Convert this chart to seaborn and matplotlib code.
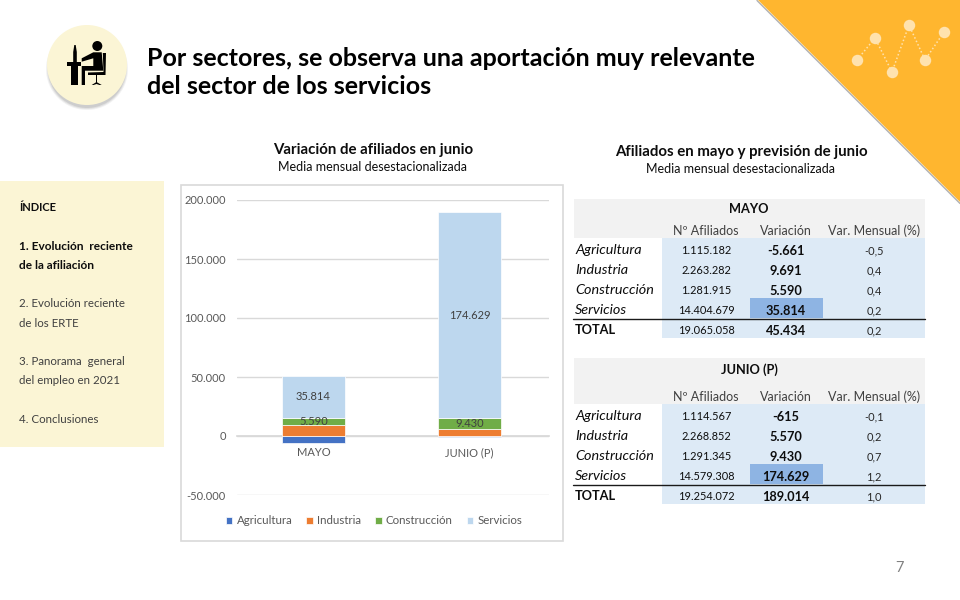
import matplotlib
matplotlib.use('Agg')
import numpy as np
import pandas as pd
import seaborn as sns
import matplotlib.pyplot as plt
from matplotlib.patches import Rectangle, Circle, Polygon
from matplotlib.ticker import FuncFormatter

sns.set_theme(style='white')
plt.rcParams['font.family'] = ['Lato', 'DejaVu Sans']

# chart data
periods = ['MAYO', 'JUNIO (P)']
agricultura = [-5661, -615]
industria = [9691, 5570]
construccion = [5590, 9430]
servicios = [35814, 174629]
sector_names = ['Agricultura', 'Industria', 'Construcción', 'Servicios']
sector_colors = ['#4472C4', '#ED7D31', '#70AD47', '#BDD7EE']
y_ticks = [-50000, 0, 50000, 100000, 150000, 200000]

# tables
table_rows = ['Agricultura', 'Industria', 'Construcción', 'Servicios', 'TOTAL']
table_cols = ['Nº Afiliados', 'Variación', 'Var. Mensual (%)']
mayo_afiliados = ['1.115.182', '2.263.282', '1.281.915', '14.404.679', '19.065.058']
mayo_variacion = ['-5.661', '9.691', '5.590', '35.814', '45.434']
mayo_mensual = ['-0,5', '0,4', '0,4', '0,2', '0,2']
junio_afiliados = ['1.114.567', '2.268.852', '1.291.345', '14.579.308', '19.254.072']
junio_variacion = ['-615', '5.570', '9.430', '174.629', '189.014']
junio_mensual = ['-0,1', '0,2', '0,7', '1,2', '1,0']

index_items = [
    ('ÍNDICE', 207.5, True),
    ('1. Evolución  reciente', 246.5, True),
    ('de la afiliación', 265.5, True),
    ('2. Evolución reciente', 303.5, False),
    ('de los ERTE', 323.5, False),
    ('3. Panorama  general', 361.5, False),
    ('del empleo en 2021', 380.5, False),
    ('4. Conclusiones', 419.5, False),
]

TXT = '#0D0D0D'
GREY = '#595959'
YELLOW = '#FBF5D5'

fig = plt.figure(figsize=(9.6, 6), dpi=100, facecolor='white')

# page layer in pixel coordinates
bg = fig.add_axes([0, 0, 1, 1], zorder=0)
bg.set_xlim(0, 960)
bg.set_ylim(600, 0)
bg.axis('off')

# corner triangle
bg.plot([757, 960], [0.5, 203.5], color='#B0B0B0', lw=1.0)
bg.add_patch(Polygon([[758, 0], [960, 0], [960, 202]], closed=True, fc='#FFB62F', ec='none', zorder=2))
spark_x = [857, 875, 892, 909, 925, 944]
spark_y = [60, 38, 72, 25, 60, 32]
bg.plot(spark_x, spark_y, ls=(0, (1, 1.5)), lw=1.1, color='#FFE2AE', zorder=3)
bg.scatter(spark_x, spark_y, s=68, color='#FFE2AE', linewidths=0, zorder=4)

# round icon
for r, a in [(41, 0.10), (40, 0.15), (39, 0.2)]:
    bg.add_patch(Circle((87, 69), r, fc='#808080', ec='none', alpha=a))
bg.add_patch(Circle((87, 65), 40, fc=YELLOW, ec='none'))
bg.add_patch(Circle((97.3, 46), 5, fc='black', ec='none'))
bg.add_patch(Polygon([[81.7, 58.3], [93.3, 52.3], [101.7, 52.3], [103.3, 70.7], [85, 70.7], [85, 85], [81.7, 85],
                      [81.7, 66], [93.3, 66], [93.3, 58.3], [81.7, 61.7]], closed=True, fc='black', ec='none'))
bg.add_patch(Polygon([[102.8, 53], [106, 53], [105.5, 75], [88, 75], [88, 72.5], [103.5, 72]], closed=True, fc='black', ec='none'))
bg.add_patch(Rectangle((67, 62), 14, 3.5, fc='black', ec='none'))
bg.add_patch(Rectangle((70.7, 65), 7.6, 20, fc='black', ec='none'))
bg.add_patch(Polygon([[74.3, 45], [75.7, 45], [76.8, 52], [76.8, 62], [73.2, 62], [73.2, 52]], closed=True, fc='black', ec='none'))
bg.add_patch(Rectangle((95.7, 75), 1.6, 7.5, fc='black', ec='none'))
bg.add_patch(Polygon([[91.7, 85], [96.5, 82], [101.7, 85], [99.5, 85], [96.5, 84], [93.5, 85]], closed=True, fc='black', ec='none'))

# title
bg.text(147, 58, 'Por sectores, se observa una aportación muy relevante', fontsize=18, fontweight='bold', color='black', va='center')
bg.text(147, 87, 'del sector de los servicios', fontsize=18, fontweight='bold', color='black', va='center')

# index panel
bg.add_patch(Rectangle((0, 181), 164, 266, fc=YELLOW, ec='none'))
for label, py, is_bold in index_items:
    size = 8.6 if is_bold and label != 'ÍNDICE' else 8.3
    if label == 'ÍNDICE':
        size = 8
    bg.text(19, py, label, fontsize=size, color=TXT if is_bold else '#404040',
            fontweight='bold' if is_bold else 'normal', va='center')

# headings
bg.text(373, 150, 'Variación de afiliados en junio', fontsize=10.8, fontweight='bold', color=TXT, ha='center', va='center')
bg.text(373, 167, 'Media mensual desestacionalizada', fontsize=9, color=TXT, ha='center', va='center')
bg.text(741, 152, 'Afiliados en mayo y previsión de junio', fontsize=10.8, fontweight='bold', color=TXT, ha='center', va='center')
bg.text(741, 169, 'Media mensual desestacionalizada', fontsize=9, color=TXT, ha='center', va='center')

# chart frame
bg.add_patch(Rectangle((180.5, 184.5), 382, 356, fc='white', ec='#D9D9D9', lw=1.2))


def draw_table(top, head_h, title, title_y, afiliados, variacion, mensual):
    body = top + head_h
    row_y = [body + 12 + 20 * i for i in range(5)]
    bg.add_patch(Rectangle((574, top), 351, head_h, fc='#F2F2F2', ec='none'))
    bg.add_patch(Rectangle((662, body), 263, 100, fc='#DDEAF6', ec='none'))
    bg.add_patch(Rectangle((750, body + 60), 73, 20, fc='#8EB4E3', ec='none'))
    bg.plot([573, 925], [body + 80.5, body + 80.5], color='#1A1A1A', lw=1)
    bg.text(749, title_y, title, fontsize=9.2, fontweight='bold', color=TXT, ha='center', va='center')
    for cx, head in zip([706, 786, 874], table_cols):
        bg.text(cx, body - 7, head, fontsize=9, color='#404040', ha='center', va='center')
    for i, py in enumerate(row_y):
        if i == 4:
            bg.text(575, py, table_rows[i], fontsize=9.2, fontweight='bold', color=TXT, va='center')
        else:
            bg.text(575, py, table_rows[i], fontsize=10.4, style='italic', color=TXT, va='center')
        bg.text(706, py + 1, afiliados[i], fontsize=7.9, color=TXT, ha='center', va='center')
        bg.text(786, py + 1, variacion[i], fontsize=9.2, fontweight='bold', color=TXT, ha='center', va='center')
        bg.text(874, py + 1, mensual[i], fontsize=7.9, color='#262626', ha='center', va='center')


draw_table(199, 39, 'MAYO', 209, mayo_afiliados, mayo_variacion, mayo_mensual)
draw_table(358, 46, 'JUNIO (P)', 370, junio_afiliados, junio_variacion, junio_mensual)

bg.text(899, 568, '7', fontsize=10.5, color='#808080', ha='center', va='center')

# stacked bar chart, axes box in pixels: x 237-549, y 200-495
ax = fig.add_axes([237 / 960, 1 - 495 / 600, 312 / 960, 295 / 600], zorder=2)
ax.patch.set_alpha(0)

all_series = [agricultura, industria, construccion, servicios]
pos_bottom = np.zeros(len(periods))
for name, vals, col in zip(sector_names, all_series, sector_colors):
    vals = np.array(vals, dtype=float)
    bottom = np.where(vals < 0, 0, pos_bottom)
    sns.barplot(x=periods, y=vals, bottom=bottom, color=col, saturation=1, width=0.4,
                label=name, errorbar=None, ax=ax, zorder=3, edgecolor='white', linewidth=0.5)
    pos_bottom = pos_bottom + np.where(vals > 0, vals, 0)

fmt = lambda v: f'{v:,.0f}'.replace(',', '.')
ax.bar_label(ax.containers[2], labels=[fmt(v) for v in construccion], label_type='center', fontsize=8, color='#404040', zorder=4)
ax.bar_label(ax.containers[3], labels=[fmt(v) for v in servicios], label_type='center', fontsize=8, color='#404040', zorder=4)

ax.set_ylim(-50000, 200000)
ax.set_xlim(-0.49, 1.51)
ax.set_yticks(y_ticks)
ax.yaxis.set_major_formatter(FuncFormatter(lambda v, _: fmt(v)))
ax.grid(axis='y', color='#D9D9D9', lw=1, zorder=0)
ax.set_axisbelow(True)
for s in ['top', 'right', 'left']:
    ax.spines[s].set_visible(False)
ax.spines['bottom'].set_position(('data', 0))
ax.spines['bottom'].set_color('#D9D9D9')
ax.tick_params(axis='y', length=0, labelsize=8, labelcolor=GREY, pad=8)
ax.tick_params(axis='x', length=0, labelsize=8, labelcolor=GREY, pad=8)
ax.set_xlabel('')
ax.set_ylabel('')

ax.legend(loc='center', bbox_to_anchor=(0.439, -0.088), ncol=4, frameon=False, fontsize=8.3,
          labelcolor=GREY, handlelength=0.6, handleheight=0.6, handletextpad=0.35, columnspacing=1.2)

fig.savefig('out.png', dpi=100)
